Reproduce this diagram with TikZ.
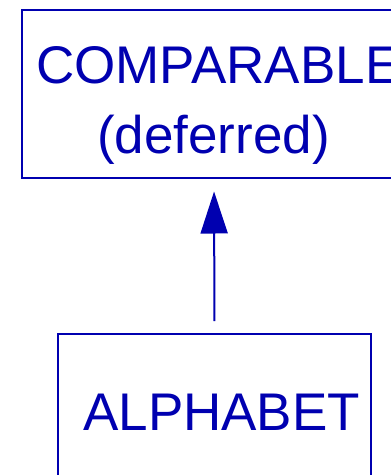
\documentclass[tikz,border=0pt]{standalone}
\usepackage{fontspec}
\setmainfont{Liberation Sans}
\usetikzlibrary{arrows.meta}
\definecolor{ink}{RGB}{0,0,176}
\begin{document}
\begin{tikzpicture}[x=1pt,y=-1pt,
  classbox/.style={draw=ink,line width=2pt,rectangle,inner sep=0pt},
  lbl/.style={text=ink,anchor=base west,inner sep=0pt,font=\fontsize{53}{60}\selectfont},
  inherit/.style={draw=ink,line width=2pt,-{Triangle[length=42pt,width=27pt]},fill=ink}]
\useasboundingbox (0,0) rectangle (391,475);
\clip (0,0) rectangle (391,475);
\node[classbox,minimum width=384pt,minimum height=168pt] (top) at (214,94) {};
\node[classbox,minimum width=313pt,minimum height=156pt] (bot) at (214.5,412) {};
\node[lbl] (t1) at (36,83) {COMPARABLE};
\node[lbl] (t2) at (97,153) {(deferred)};
\node[lbl] (t3) at (83,430) {ALPHABET};
\draw[inherit,shorten <=12pt,shorten >=12.5pt] (bot.north) -- (top.south);
\end{tikzpicture}
\end{document}
